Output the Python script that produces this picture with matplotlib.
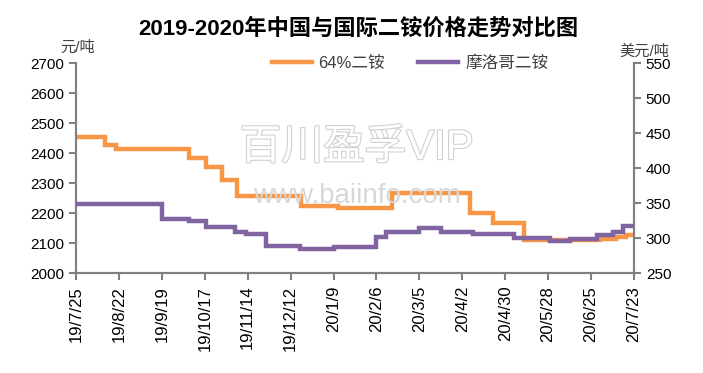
import pandas as pd
import numpy as np
import matplotlib
matplotlib.use("Agg")
import matplotlib.pyplot as plt
import matplotlib.patheffects as pe
from matplotlib.lines import Line2D

plt.rcParams["font.family"] = ["Liberation Sans", "Noto Sans CJK SC"]

# 64%二铵 (元/吨), step changes
cn_dates = ["2019-07-25", "2019-08-13", "2019-08-20", "2019-10-07", "2019-10-18",
            "2019-10-28", "2019-11-07", "2019-12-19", "2020-01-12", "2020-02-16",
            "2020-04-07", "2020-04-22", "2020-05-12", "2020-07-01", "2020-07-11",
            "2020-07-18", "2020-07-23"]
cn_vals = [2455, 2428, 2413, 2385, 2355, 2311, 2257, 2225, 2217, 2267,
           2200, 2167, 2112, 2115, 2122, 2128, 2128]

# 摩洛哥二铵 (美元/吨)
ma_dates = ["2019-07-25", "2019-09-19", "2019-10-07", "2019-10-18", "2019-11-06",
            "2019-11-13", "2019-11-26", "2019-12-18", "2020-01-09", "2020-02-06",
            "2020-02-12", "2020-03-05", "2020-03-19", "2020-04-09", "2020-05-06",
            "2020-05-29", "2020-06-11", "2020-06-29", "2020-07-09", "2020-07-16",
            "2020-07-23"]
ma_vals = [349, 327, 324, 316, 308.6, 305.7, 289.5, 284.3, 288, 302,
           308.6, 315, 308.6, 306, 300, 296.6, 298.6, 304.7, 309.4, 317.6, 317.6]

tick_dates = pd.date_range("2019-07-25", "2020-07-23", freq="28D")
tick_labels = ["19/7/25", "19/8/22", "19/9/19", "19/10/17", "19/11/14", "19/12/12",
               "20/1/9", "20/2/6", "20/3/5", "20/4/2", "20/4/30", "20/5/28",
               "20/6/25", "20/7/23"]

c_or = "#F79646"
c_pu = "#8064A2"
gray = "#808080"

fig = plt.figure(figsize=(7.03, 3.73), dpi=100)
ax = fig.add_axes([0.1081, 0.2673, 0.7937, 0.5630])
ax2 = ax.twinx()

# watermark
wm = [pe.Stroke(linewidth=1.6, foreground="#d0d0d0"), pe.Normal()]
fig.text(0.507, 0.603, "百川盈孚VIP", fontsize=30, color="white", ha="center",
         va="center", path_effects=wm, zorder=0)
fig.text(0.508, 0.475, "www.baiinfo.com", fontsize=20, color="#d8d8d8",
         ha="center", va="center", zorder=0)
ax.patch.set_visible(False)
ax2.patch.set_visible(False)

ax.step(pd.to_datetime(cn_dates), cn_vals, where="post", color=c_or, lw=3.2,
        solid_joinstyle="miter", zorder=3)
ax2.step(pd.to_datetime(ma_dates), ma_vals, where="post", color=c_pu, lw=3.2,
         solid_joinstyle="miter", zorder=3)

ax.set_xlim(pd.Timestamp("2019-07-25"), pd.Timestamp("2020-07-23"))
ax.set_ylim(2000, 2700)
ax.set_yticks(np.arange(2000, 2701, 100))
ax2.set_ylim(250, 550)
ax2.set_yticks(np.arange(250, 551, 50))
ax.set_xticks(tick_dates)
ax.set_xticklabels(tick_labels, rotation=90, fontsize=12)

for a in (ax, ax2):
    for s in a.spines.values():
        s.set_color(gray)
        s.set_linewidth(1.5)
    a.spines["top"].set_visible(False)
    a.tick_params(colors=gray, labelcolor="black", labelsize=11, width=1.5, length=5)
ax.tick_params(axis="x", pad=4, labelsize=12)

fig.text(0.51, 0.922, "2019-2020年中国与国际二铵价格走势对比图", fontsize=16,
         fontweight="bold", ha="center", va="center")
fig.text(0.11, 0.872, "元/吨", fontsize=11, color="#404040", ha="center", va="center")
fig.text(0.917, 0.862, "美元/吨", fontsize=11, color="#404040", ha="center", va="center")

handles = [Line2D([], [], color=c_or, lw=3.2), Line2D([], [], color=c_pu, lw=3.2)]
fig.legend(handles, ["64%二铵", "摩洛哥二铵"], loc="center",
           bbox_to_anchor=(410 / 703, 1 - 63 / 373), ncol=2, frameon=False,
           fontsize=12, handlelength=2.4, columnspacing=2.0, handletextpad=0.4,
           labelcolor="#404040")

fig.savefig("out.png", dpi=100)
